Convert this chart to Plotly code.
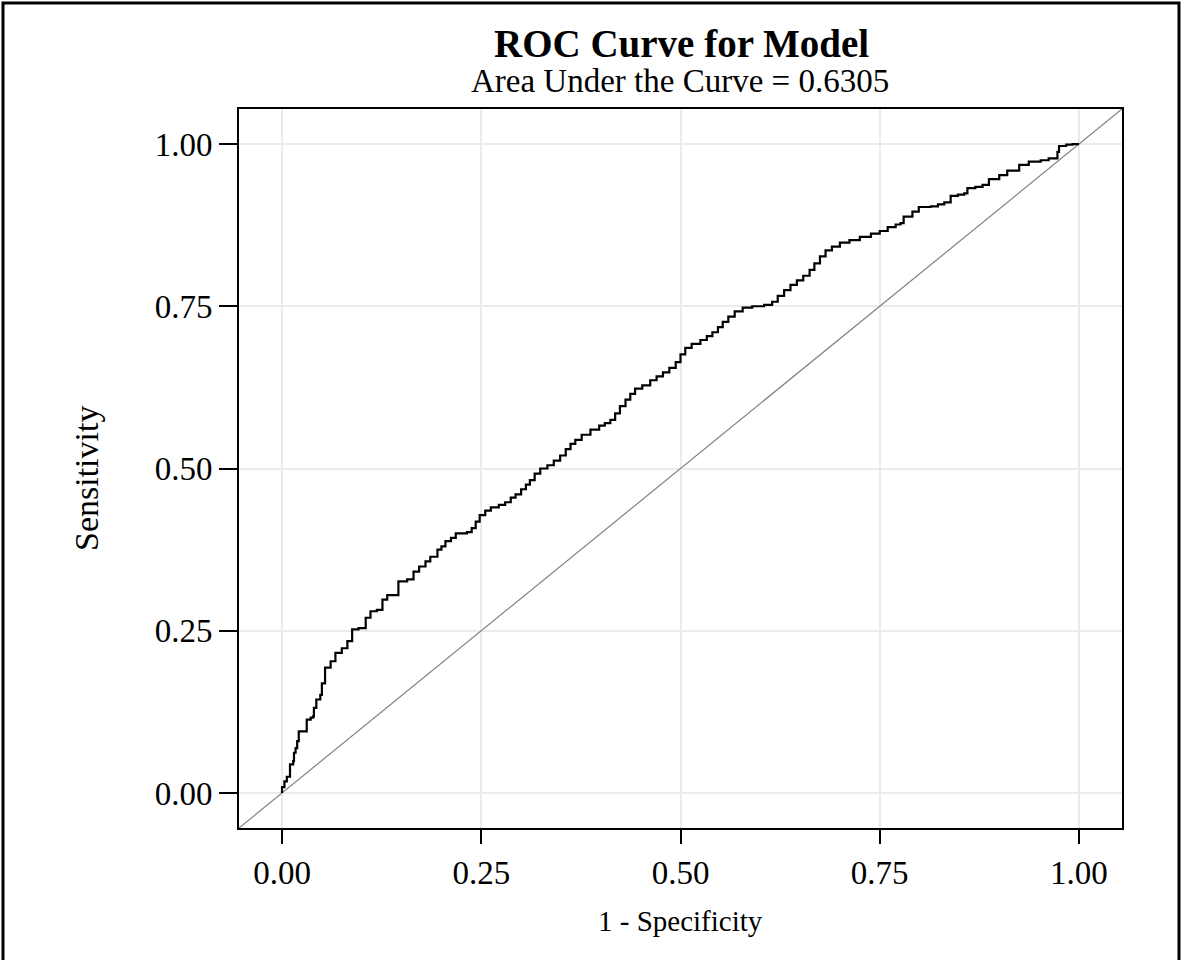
import plotly.graph_objects as go

# ROC curve points (1 - specificity, sensitivity)
fpr = [0.000, 0.000, 0.003, 0.006, 0.010, 0.014, 0.015, 0.017, 0.019, 0.021, 0.027,
       0.031, 0.036, 0.039, 0.040, 0.043, 0.048, 0.050, 0.054, 0.061, 0.067, 0.075,
       0.082, 0.088, 0.096, 0.105, 0.111, 0.119, 0.126, 0.132, 0.142, 0.146, 0.157,
       0.165, 0.172, 0.180, 0.186, 0.195, 0.200, 0.205, 0.212, 0.218, 0.232, 0.238,
       0.243, 0.248, 0.255, 0.262, 0.272, 0.280, 0.287, 0.293, 0.300, 0.306, 0.311,
       0.317, 0.324, 0.333, 0.341, 0.349, 0.356, 0.362, 0.368, 0.376, 0.387, 0.398,
       0.405, 0.412, 0.418, 0.424, 0.431, 0.437, 0.443, 0.452, 0.462, 0.470, 0.478,
       0.486, 0.494, 0.500, 0.506, 0.514, 0.525, 0.533, 0.540, 0.547, 0.553, 0.560,
       0.568, 0.578, 0.590, 0.605, 0.615, 0.622, 0.630, 0.638, 0.646, 0.654, 0.662,
       0.668, 0.675, 0.682, 0.690, 0.700, 0.712, 0.725, 0.739, 0.750, 0.760, 0.770,
       0.776, 0.780, 0.791, 0.799, 0.814, 0.823, 0.831, 0.839, 0.848, 0.856, 0.860,
       0.870, 0.879, 0.887, 0.900, 0.910, 0.923, 0.925, 0.937, 0.952, 0.962, 0.973,
       0.975, 0.984, 0.992, 1.000]
tpr = [0.000, 0.009, 0.018, 0.025, 0.044, 0.049, 0.062, 0.069, 0.080, 0.095, 0.095,
       0.113, 0.116, 0.118, 0.131, 0.144, 0.151, 0.169, 0.193, 0.203, 0.216, 0.223,
       0.234, 0.252, 0.254, 0.270, 0.280, 0.282, 0.298, 0.305, 0.305, 0.326, 0.329,
       0.341, 0.349, 0.357, 0.364, 0.375, 0.380, 0.388, 0.393, 0.400, 0.402, 0.408,
       0.418, 0.428, 0.435, 0.440, 0.444, 0.448, 0.455, 0.460, 0.468, 0.475, 0.482,
       0.492, 0.500, 0.505, 0.512, 0.520, 0.530, 0.538, 0.544, 0.552, 0.560, 0.566,
       0.570, 0.575, 0.585, 0.596, 0.606, 0.615, 0.623, 0.628, 0.636, 0.642, 0.648,
       0.655, 0.664, 0.676, 0.686, 0.692, 0.698, 0.704, 0.710, 0.718, 0.726, 0.734,
       0.742, 0.748, 0.750, 0.752, 0.757, 0.766, 0.775, 0.783, 0.790, 0.797, 0.806,
       0.816, 0.827, 0.836, 0.842, 0.848, 0.852, 0.857, 0.862, 0.866, 0.872, 0.876,
       0.878, 0.888, 0.896, 0.903, 0.904, 0.907, 0.910, 0.920, 0.922, 0.924, 0.932,
       0.934, 0.937, 0.946, 0.952, 0.959, 0.959, 0.968, 0.973, 0.975, 0.978, 0.988,
       0.997, 0.999, 1.000, 1.000]

ref_x = [-0.06, 1.06]
ref_y = [-0.06, 1.06]

tick_vals = [0.0, 0.25, 0.5, 0.75, 1.0]
tick_text = ["0.00", "0.25", "0.50", "0.75", "1.00"]

title_text = "<b>ROC Curve for Model</b>"
subtitle_text = "Area Under the Curve = 0.6305"
x_title = "1 - Specificity"
y_title = "Sensitivity"

W, H = 1181, 960
ML, MR, MT, MB = 239, 59, 109, 132
PW, PH = W - ML - MR, H - MT - MB

def px(x):
    return (x - ML) / PW

def py(y):
    return (H - MB - y) / PH

FONT = "Liberation Serif, Times New Roman, serif"

fig = go.Figure()
fig.add_trace(go.Scatter(x=ref_x, y=ref_y, mode="lines",
                         line=dict(color="#808080", width=1.2), hoverinfo="skip",
                         showlegend=False))
fig.add_trace(go.Scatter(x=fpr, y=tpr, mode="lines", line_shape="hv",
                         line=dict(color="black", width=2.2), showlegend=False))

axis_common = dict(
    range=[-0.054, 1.054], tickvals=tick_vals, ticktext=tick_text,
    showgrid=True, gridcolor="#ebebeb", gridwidth=2, zeroline=False,
    showline=True, linecolor="black", linewidth=2, mirror=True,
    ticks="outside", tickwidth=2, tickcolor="black",
    tickfont=dict(family=FONT, size=33, color="black"),
)

fig.update_layout(
    width=W, height=H,
    margin=dict(l=ML, r=MR, t=MT, b=MB),
    paper_bgcolor="white", plot_bgcolor="white",
    xaxis=dict(**axis_common, ticklen=14),
    yaxis=dict(**axis_common, ticklen=18),
    annotations=[
        dict(text=title_text, x=px(681), y=py(44), xref="paper", yref="paper",
             showarrow=False, xanchor="center", yanchor="middle",
             font=dict(family=FONT, size=39, color="black")),
        dict(text=subtitle_text, x=px(680), y=py(81), xref="paper", yref="paper",
             showarrow=False, xanchor="center", yanchor="middle",
             font=dict(family=FONT, size=33, color="black")),
        dict(text=x_title, x=px(680), y=py(921), xref="paper", yref="paper",
             showarrow=False, xanchor="center", yanchor="middle",
             font=dict(family=FONT, size=29, color="black")),
        dict(text=y_title, x=px(86), y=py(479), xref="paper", yref="paper",
             showarrow=False, xanchor="center", yanchor="middle", textangle=-90,
             font=dict(family=FONT, size=34, color="black")),
    ],
    shapes=[
        dict(type="rect", xref="paper", yref="paper",
             x0=px(3), x1=px(1179), y0=py(3), y1=py(975),
             line=dict(color="black", width=3), fillcolor="rgba(0,0,0,0)", layer="above"),
    ],
)

fig.write_html("out.html", config={"displayModeBar": False},
               post_script="document.body.style.margin='0';")
